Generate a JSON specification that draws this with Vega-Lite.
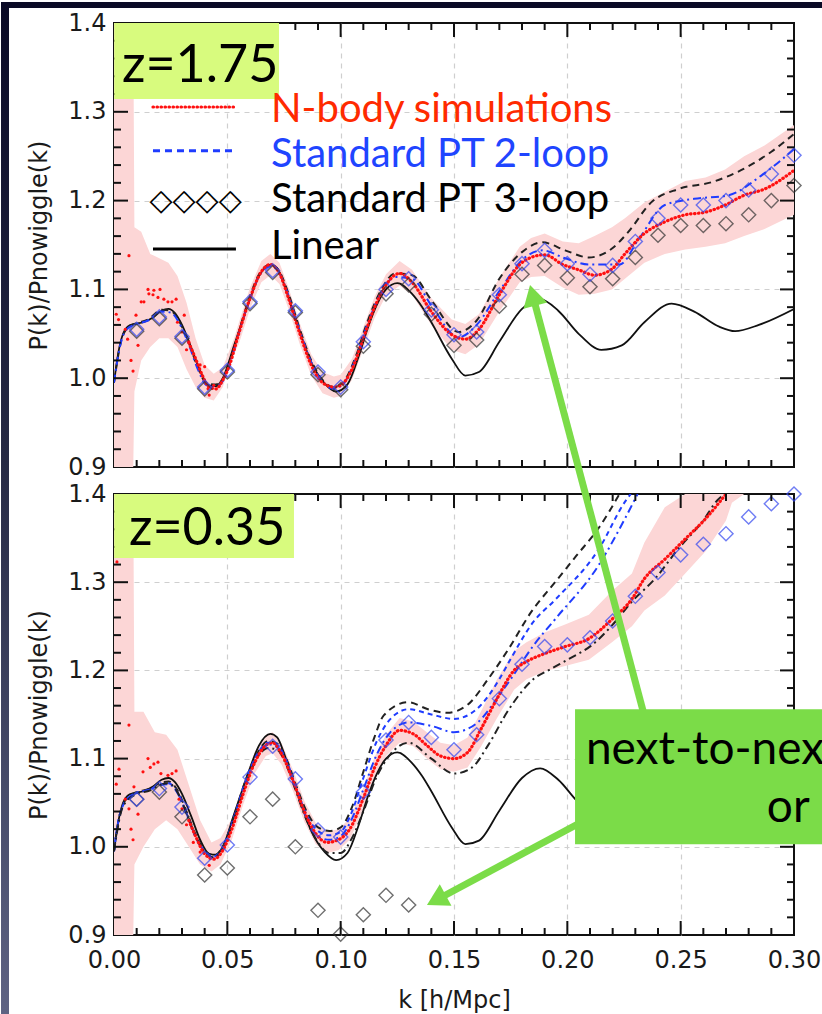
{
"$schema":"https://vega.github.io/schema/vega-lite/v6.json",
"background":"white",
"padding":{"left":0,"top":0,"right":0,"bottom":0},
"config":{
 "view":{"stroke":"#111111","strokeWidth":2},
 "axis":{"labelFont":"DejaVu Sans","labelFontSize":24,"labelColor":"#1a1a1a","titleFont":"DejaVu Sans","titleFontSize":24,"titleFontWeight":"normal","titleColor":"#1a1a1a","tickColor":"#111111","tickWidth":1.6,"labelOverlap":false,"labelFlush":false}
},
"spacing":27,
"bounds":"flush",
"datasets":{
 "lin":[{"k":0,"v":0.995},{"k":0.002,"v":1.03},{"k":0.004,"v":1.05},{"k":0.006,"v":1.058},{"k":0.009,"v":1.061},{"k":0.013,"v":1.063},{"k":0.017,"v":1.068},{"k":0.021,"v":1.076},{"k":0.024,"v":1.078},{"k":0.027,"v":1.073},{"k":0.03,"v":1.06},{"k":0.034,"v":1.035},{"k":0.038,"v":1.008},{"k":0.042,"v":0.992},{"k":0.045,"v":0.991},{"k":0.048,"v":1.0},{"k":0.053,"v":1.037},{"k":0.059,"v":1.082},{"k":0.064,"v":1.115},{"k":0.069,"v":1.128},{"k":0.072,"v":1.124},{"k":0.075,"v":1.106},{"k":0.079,"v":1.075},{"k":0.083,"v":1.045},{"k":0.087,"v":1.018},{"k":0.093,"v":0.994},{"k":0.098,"v":0.985},{"k":0.103,"v":0.993},{"k":0.108,"v":1.025},{"k":0.112,"v":1.057},{"k":0.116,"v":1.083},{"k":0.12,"v":1.1},{"k":0.125,"v":1.107},{"k":0.1315,"v":1.095},{"k":0.136,"v":1.08},{"k":0.14,"v":1.063},{"k":0.149,"v":1.022},{"k":0.155,"v":1.003},{"k":0.161,"v":1.007},{"k":0.17,"v":1.041},{"k":0.18,"v":1.078},{"k":0.188,"v":1.089},{"k":0.196,"v":1.076},{"k":0.205,"v":1.05},{"k":0.215,"v":1.032},{"k":0.224,"v":1.037},{"k":0.234,"v":1.063},{"k":0.246,"v":1.084},{"k":0.256,"v":1.075},{"k":0.267,"v":1.058},{"k":0.274,"v":1.053},{"k":0.2845,"v":1.06},{"k":0.3,"v":1.078}],
 "top_band":[{"k":0,"lo":0.9,"hi":1.4},{"k":0.0085,"lo":0.9,"hi":1.4},{"k":0.009,"lo":0.985,"hi":1.17},{"k":0.012,"lo":1.02,"hi":1.165},{"k":0.016,"lo":1.035,"hi":1.14},{"k":0.02,"lo":1.045,"hi":1.135},{"k":0.024,"lo":1.045,"hi":1.13},{"k":0.028,"lo":1.035,"hi":1.115},{"k":0.032,"lo":1.01,"hi":1.085},{"k":0.036,"lo":0.99,"hi":1.045},{"k":0.04,"lo":0.978,"hi":1.015},{"k":0.044,"lo":0.975,"hi":1.005},{"k":0.048,"lo":0.99,"hi":1.012},{"k":0.053,"lo":1.028,"hi":1.045},{"k":0.055,"lo":1.038,"hi":1.062},{"k":0.06,"lo":1.078,"hi":1.102},{"k":0.065,"lo":1.108,"hi":1.132},{"k":0.069,"lo":1.116,"hi":1.14},{"k":0.073,"lo":1.106,"hi":1.13},{"k":0.077,"lo":1.078,"hi":1.102},{"k":0.082,"lo":1.038,"hi":1.062},{"k":0.087,"lo":1.003,"hi":1.027},{"k":0.092,"lo":0.983,"hi":1.007},{"k":0.097,"lo":0.978,"hi":1.002},{"k":0.1,"lo":0.98,"hi":1.004},{"k":0.105,"lo":0.998,"hi":1.022},{"k":0.11,"lo":1.033,"hi":1.057},{"k":0.115,"lo":1.068,"hi":1.092},{"k":0.12,"lo":1.093,"hi":1.117},{"k":0.126,"lo":1.104,"hi":1.132},{"k":0.1315,"lo":1.094,"hi":1.122},{"k":0.14,"lo":1.06,"hi":1.09},{"k":0.149,"lo":1.032,"hi":1.066},{"k":0.155,"lo":1.027,"hi":1.061},{"k":0.161,"lo":1.038,"hi":1.072},{"k":0.17,"lo":1.075,"hi":1.113},{"k":0.179,"lo":1.108,"hi":1.148},{"k":0.184,"lo":1.114,"hi":1.158},{"k":0.19,"lo":1.115,"hi":1.163},{"k":0.198,"lo":1.102,"hi":1.154},{"k":0.205,"lo":1.094,"hi":1.152},{"k":0.212,"lo":1.095,"hi":1.16},{"k":0.2197,"lo":1.1,"hi":1.17},{"k":0.2254,"lo":1.112,"hi":1.18},{"k":0.234,"lo":1.13,"hi":1.198},{"k":0.243,"lo":1.14,"hi":1.21},{"k":0.252,"lo":1.145,"hi":1.222},{"k":0.261,"lo":1.148,"hi":1.226},{"k":0.2696,"lo":1.152,"hi":1.235},{"k":0.278,"lo":1.16,"hi":1.25},{"k":0.287,"lo":1.168,"hi":1.262},{"k":0.3,"lo":1.184,"hi":1.285}],
 "top_nb":[{"k":0.033,"v":1.04},{"k":0.036,"v":1.022},{"k":0.039,"v":1.003},{"k":0.042,"v":0.99},{"k":0.045,"v":0.988},{"k":0.048,"v":0.998},{"k":0.051,"v":1.015},{"k":0.055,"v":1.05},{"k":0.06,"v":1.09},{"k":0.065,"v":1.12},{"k":0.069,"v":1.128},{"k":0.073,"v":1.118},{"k":0.077,"v":1.09},{"k":0.082,"v":1.05},{"k":0.087,"v":1.015},{"k":0.092,"v":0.995},{"k":0.097,"v":0.99},{"k":0.1,"v":0.992},{"k":0.105,"v":1.01},{"k":0.11,"v":1.045},{"k":0.115,"v":1.08},{"k":0.12,"v":1.105},{"k":0.126,"v":1.118},{"k":0.1315,"v":1.108},{"k":0.14,"v":1.075},{"k":0.149,"v":1.049},{"k":0.155,"v":1.044},{"k":0.161,"v":1.055},{"k":0.17,"v":1.094},{"k":0.179,"v":1.128},{"k":0.184,"v":1.136},{"k":0.19,"v":1.139},{"k":0.198,"v":1.128},{"k":0.205,"v":1.122},{"k":0.212,"v":1.116},{"k":0.2197,"v":1.123},{"k":0.2254,"v":1.14},{"k":0.234,"v":1.163},{"k":0.243,"v":1.176},{"k":0.252,"v":1.184},{"k":0.261,"v":1.187},{"k":0.2696,"v":1.195},{"k":0.278,"v":1.206},{"k":0.287,"v":1.213},{"k":0.3,"v":1.234}],
 "top_dots":[{"k":0.001,"v":1.072},{"k":0.002,"v":1.066},{"k":0.0066,"v":1.138},{"k":0.005,"v":1.055},{"k":0.006,"v":1.044},{"k":0.0075,"v":1.02},{"k":0.0084,"v":1.008},{"k":0.0097,"v":1.071},{"k":0.0106,"v":1.037},{"k":0.012,"v":1.086},{"k":0.0132,"v":1.086},{"k":0.015,"v":1.1},{"k":0.0154,"v":1.095},{"k":0.0172,"v":1.094},{"k":0.0176,"v":1.099},{"k":0.0194,"v":1.091},{"k":0.0203,"v":1.1},{"k":0.022,"v":1.089},{"k":0.0238,"v":1.086},{"k":0.0256,"v":1.086},{"k":0.0274,"v":1.089},{"k":0.028,"v":1.063},{"k":0.03,"v":1.052},{"k":0.031,"v":1.071},{"k":0.032,"v":1.032},{"k":0.033,"v":1.041},{"k":0.038,"v":1.015},{"k":0.04,"v":1.013},{"k":0.0415,"v":0.988},{"k":0.042,"v":0.981},{"k":0.044,"v":0.992}],
 "top_bd":[{"k":0,"v":0.995},{"k":0.003,"v":1.04},{"k":0.006,"v":1.057},{"k":0.01,"v":1.062},{"k":0.015,"v":1.066},{"k":0.021,"v":1.077},{"k":0.025,"v":1.076},{"k":0.029,"v":1.063},{"k":0.033,"v":1.04},{"k":0.037,"v":1.012},{"k":0.041,"v":0.994},{"k":0.045,"v":0.993},{"k":0.049,"v":1.003},{"k":0.054,"v":1.043},{"k":0.059,"v":1.085},{"k":0.064,"v":1.117},{"k":0.069,"v":1.128},{"k":0.073,"v":1.12},{"k":0.077,"v":1.095},{"k":0.082,"v":1.055},{"k":0.087,"v":1.02},{"k":0.092,"v":0.998},{"k":0.097,"v":0.99},{"k":0.101,"v":0.995},{"k":0.106,"v":1.02},{"k":0.112,"v":1.065},{"k":0.118,"v":1.1},{"k":0.124,"v":1.118},{"k":0.1315,"v":1.116},{"k":0.14,"v":1.088},{"k":0.152,"v":1.052},{"k":0.16,"v":1.065},{"k":0.17,"v":1.112},{"k":0.18,"v":1.142},{"k":0.189,"v":1.153},{"k":0.199,"v":1.144},{"k":0.2095,"v":1.136},{"k":0.2197,"v":1.146},{"k":0.227,"v":1.165},{"k":0.237,"v":1.198},{"k":0.249,"v":1.213},{"k":0.264,"v":1.221},{"k":0.278,"v":1.236},{"k":0.29,"v":1.255},{"k":0.3,"v":1.275}],
 "top_bdd":[{"k":0,"v":0.995},{"k":0.003,"v":1.04},{"k":0.006,"v":1.056},{"k":0.01,"v":1.061},{"k":0.015,"v":1.065},{"k":0.021,"v":1.075},{"k":0.025,"v":1.074},{"k":0.029,"v":1.061},{"k":0.033,"v":1.038},{"k":0.037,"v":1.01},{"k":0.041,"v":0.992},{"k":0.045,"v":0.991},{"k":0.049,"v":1.001},{"k":0.054,"v":1.041},{"k":0.059,"v":1.083},{"k":0.064,"v":1.115},{"k":0.069,"v":1.126},{"k":0.073,"v":1.118},{"k":0.077,"v":1.093},{"k":0.082,"v":1.053},{"k":0.087,"v":1.018},{"k":0.092,"v":0.996},{"k":0.097,"v":0.988},{"k":0.101,"v":0.993},{"k":0.106,"v":1.018},{"k":0.112,"v":1.062},{"k":0.118,"v":1.097},{"k":0.124,"v":1.114},{"k":0.1315,"v":1.112},{"k":0.14,"v":1.082},{"k":0.152,"v":1.046},{"k":0.16,"v":1.06},{"k":0.17,"v":1.098},{"k":0.18,"v":1.133},{"k":0.189,"v":1.144},{"k":0.199,"v":1.135},{"k":0.2095,"v":1.128},{"k":0.223,"v":1.128},{"k":0.2316,"v":1.157},{"k":0.243,"v":1.195},{"k":0.256,"v":1.202},{"k":0.271,"v":1.206},{"k":0.286,"v":1.229},{"k":0.3,"v":1.258}],
 "top_diam":[{"k":0.01,"blue":1.055,"black":1.053},{"k":0.02,"blue":1.069,"black":1.067},{"k":0.03,"blue":1.047,"black":1.045},{"k":0.04,"blue":0.99,"black":0.988},{"k":0.05,"blue":1.009,"black":1.007},{"k":0.06,"blue":1.086,"black":1.084},{"k":0.07,"blue":1.121,"black":1.119},{"k":0.08,"blue":1.076,"black":1.074},{"k":0.09,"blue":1.007,"black":1.004},{"k":0.1,"blue":0.99,"black":0.987},{"k":0.11,"blue":1.041,"black":1.036},{"k":0.12,"blue":1.1,"black":1.095},{"k":0.13,"blue":1.112,"black":1.105},{"k":0.14,"blue":1.077,"black":1.072},{"k":0.15,"blue":1.049,"black":1.037},{"k":0.16,"blue":1.052,"black":1.043},{"k":0.17,"blue":1.094,"black":1.081},{"k":0.18,"blue":1.129,"black":1.117},{"k":0.19,"blue":1.144,"black":1.127},{"k":0.2,"blue":1.129,"black":1.113},{"k":0.21,"blue":1.117,"black":1.103},{"k":0.22,"blue":1.127,"black":1.112},{"k":0.23,"blue":1.154,"black":1.136},{"k":0.24,"blue":1.18,"black":1.161},{"k":0.25,"blue":1.195,"black":1.172},{"k":0.26,"blue":1.195,"black":1.172},{"k":0.27,"blue":1.2,"black":1.174},{"k":0.28,"blue":1.212,"black":1.184},{"k":0.29,"blue":1.23,"black":1.2},{"k":0.3,"blue":1.251,"black":1.217}],
 "bot_band":[{"k":0,"lo":0.9,"hi":1.4},{"k":0.0085,"lo":0.9,"hi":1.4},{"k":0.009,"lo":0.98,"hi":1.153},{"k":0.013,"lo":1.0,"hi":1.153},{"k":0.018,"lo":1.02,"hi":1.13},{"k":0.023,"lo":1.03,"hi":1.127},{"k":0.028,"lo":1.02,"hi":1.11},{"k":0.033,"lo":1.0,"hi":1.07},{"k":0.038,"lo":0.98,"hi":1.03},{"k":0.043,"lo":0.972,"hi":1.005},{"k":0.047,"lo":0.98,"hi":1.01},{"k":0.052,"lo":1.008,"hi":1.032},{"k":0.057,"lo":1.048,"hi":1.072},{"k":0.062,"lo":1.083,"hi":1.107},{"k":0.067,"lo":1.103,"hi":1.127},{"k":0.07,"lo":1.106,"hi":1.13},{"k":0.074,"lo":1.093,"hi":1.117},{"k":0.079,"lo":1.063,"hi":1.087},{"k":0.084,"lo":1.028,"hi":1.052},{"k":0.089,"lo":1.003,"hi":1.027},{"k":0.094,"lo":0.993,"hi":1.017},{"k":0.099,"lo":0.996,"hi":1.02},{"k":0.104,"lo":1.008,"hi":1.032},{"k":0.11,"lo":1.043,"hi":1.067},{"k":0.115,"lo":1.078,"hi":1.102},{"k":0.12,"lo":1.103,"hi":1.127},{"k":0.126,"lo":1.118,"hi":1.146},{"k":0.132,"lo":1.114,"hi":1.142},{"k":0.138,"lo":1.1,"hi":1.13},{"k":0.144,"lo":1.088,"hi":1.118},{"k":0.15,"lo":1.085,"hi":1.115},{"k":0.156,"lo":1.09,"hi":1.124},{"k":0.162,"lo":1.114,"hi":1.154},{"k":0.169,"lo":1.146,"hi":1.19},{"k":0.1765,"lo":1.178,"hi":1.222},{"k":0.182,"lo":1.19,"hi":1.232},{"k":0.19,"lo":1.199,"hi":1.243},{"k":0.199,"lo":1.205,"hi":1.252},{"k":0.2095,"lo":1.212,"hi":1.263},{"k":0.2197,"lo":1.232,"hi":1.29},{"k":0.2285,"lo":1.25,"hi":1.31},{"k":0.234,"lo":1.268,"hi":1.345},{"k":0.243,"lo":1.285,"hi":1.385},{"k":0.252,"lo":1.31,"hi":1.4},{"k":0.261,"lo":1.335,"hi":1.4},{"k":0.27,"lo":1.37,"hi":1.4},{"k":0.2726,"lo":1.39,"hi":1.4},{"k":0.278,"lo":1.4,"hi":1.4}],
 "bot_nb":[{"k":0.033,"v":1.03},{"k":0.036,"v":1.012},{"k":0.04,"v":0.992},{"k":0.044,"v":0.986},{"k":0.048,"v":0.996},{"k":0.052,"v":1.02},{"k":0.057,"v":1.06},{"k":0.062,"v":1.095},{"k":0.067,"v":1.115},{"k":0.07,"v":1.118},{"k":0.074,"v":1.105},{"k":0.079,"v":1.075},{"k":0.084,"v":1.04},{"k":0.089,"v":1.015},{"k":0.094,"v":1.005},{"k":0.099,"v":1.008},{"k":0.104,"v":1.02},{"k":0.11,"v":1.055},{"k":0.115,"v":1.09},{"k":0.12,"v":1.115},{"k":0.126,"v":1.132},{"k":0.132,"v":1.128},{"k":0.138,"v":1.115},{"k":0.144,"v":1.103},{"k":0.15,"v":1.1},{"k":0.156,"v":1.107},{"k":0.162,"v":1.134},{"k":0.169,"v":1.168},{"k":0.1765,"v":1.2},{"k":0.182,"v":1.21},{"k":0.19,"v":1.219},{"k":0.199,"v":1.227},{"k":0.2095,"v":1.236},{"k":0.2197,"v":1.258},{"k":0.2285,"v":1.281},{"k":0.234,"v":1.304},{"k":0.243,"v":1.326},{"k":0.252,"v":1.349},{"k":0.261,"v":1.372},{"k":0.27,"v":1.4}],
 "bot_dots":[{"k":0.0013,"v":1.323},{"k":0.0066,"v":1.138},{"k":0.001,"v":1.071},{"k":0.0022,"v":1.088},{"k":0.005,"v":1.054},{"k":0.0066,"v":1.043},{"k":0.0075,"v":1.02},{"k":0.0084,"v":1.008},{"k":0.0088,"v":1.068},{"k":0.0106,"v":1.037},{"k":0.0128,"v":1.085},{"k":0.015,"v":1.1},{"k":0.016,"v":1.09},{"k":0.0176,"v":1.094},{"k":0.0194,"v":1.096},{"k":0.0207,"v":1.083},{"k":0.0238,"v":1.081},{"k":0.0256,"v":1.083},{"k":0.0274,"v":1.086},{"k":0.0287,"v":1.054},{"k":0.03,"v":1.043},{"k":0.032,"v":1.025},{"k":0.035,"v":1.005},{"k":0.038,"v":0.994},{"k":0.042,"v":0.979}],
 "bot_kd":[{"k":0,"v":0.995},{"k":0.002,"v":1.03},{"k":0.004,"v":1.048},{"k":0.007,"v":1.058},{"k":0.01,"v":1.062},{"k":0.016,"v":1.066},{"k":0.02,"v":1.072},{"k":0.024,"v":1.074},{"k":0.028,"v":1.064},{"k":0.032,"v":1.04},{"k":0.036,"v":1.014},{"k":0.04,"v":0.996},{"k":0.044,"v":0.99},{"k":0.048,"v":1.0},{"k":0.053,"v":1.035},{"k":0.058,"v":1.075},{"k":0.063,"v":1.105},{"k":0.068,"v":1.12},{"k":0.072,"v":1.117},{"k":0.076,"v":1.1},{"k":0.08,"v":1.072},{"k":0.085,"v":1.04},{"k":0.09,"v":1.022},{"k":0.095,"v":1.018},{"k":0.1,"v":1.022},{"k":0.105,"v":1.045},{"k":0.11,"v":1.085},{"k":0.115,"v":1.125},{"k":0.119,"v":1.149},{"k":0.1297,"v":1.164},{"k":0.1385,"v":1.156},{"k":0.147,"v":1.152},{"k":0.156,"v":1.161},{"k":0.165,"v":1.19},{"k":0.174,"v":1.224},{"k":0.184,"v":1.266},{"k":0.1946,"v":1.3},{"k":0.204,"v":1.33},{"k":0.214,"v":1.362},{"k":0.223,"v":1.4}],
 "bot_bl":[{"k":0,"v":0.995},{"k":0.002,"v":1.03},{"k":0.004,"v":1.047},{"k":0.007,"v":1.057},{"k":0.01,"v":1.061},{"k":0.016,"v":1.065},{"k":0.02,"v":1.07},{"k":0.024,"v":1.072},{"k":0.028,"v":1.062},{"k":0.032,"v":1.038},{"k":0.036,"v":1.012},{"k":0.04,"v":0.995},{"k":0.044,"v":0.989},{"k":0.048,"v":0.999},{"k":0.053,"v":1.034},{"k":0.058,"v":1.074},{"k":0.063,"v":1.104},{"k":0.068,"v":1.118},{"k":0.072,"v":1.115},{"k":0.076,"v":1.098},{"k":0.08,"v":1.07},{"k":0.085,"v":1.036},{"k":0.09,"v":1.018},{"k":0.095,"v":1.013},{"k":0.1,"v":1.017},{"k":0.105,"v":1.04},{"k":0.11,"v":1.078},{"k":0.116,"v":1.12},{"k":0.122,"v":1.145},{"k":0.13,"v":1.156},{"k":0.14,"v":1.15},{"k":0.15,"v":1.145},{"k":0.16,"v":1.156},{"k":0.17,"v":1.19},{"k":0.175,"v":1.213},{"k":0.185,"v":1.255},{"k":0.1946,"v":1.28},{"k":0.214,"v":1.338},{"k":0.2254,"v":1.391},{"k":0.228,"v":1.4}],
 "bot_bdd":[{"k":0,"v":0.995},{"k":0.002,"v":1.03},{"k":0.004,"v":1.047},{"k":0.007,"v":1.057},{"k":0.01,"v":1.061},{"k":0.016,"v":1.065},{"k":0.02,"v":1.07},{"k":0.024,"v":1.071},{"k":0.028,"v":1.061},{"k":0.032,"v":1.037},{"k":0.036,"v":1.011},{"k":0.04,"v":0.994},{"k":0.044,"v":0.988},{"k":0.048,"v":0.998},{"k":0.053,"v":1.033},{"k":0.058,"v":1.072},{"k":0.063,"v":1.102},{"k":0.068,"v":1.116},{"k":0.072,"v":1.113},{"k":0.076,"v":1.096},{"k":0.08,"v":1.068},{"k":0.085,"v":1.032},{"k":0.09,"v":1.012},{"k":0.095,"v":1.008},{"k":0.1,"v":1.012},{"k":0.105,"v":1.032},{"k":0.11,"v":1.065},{"k":0.116,"v":1.105},{"k":0.122,"v":1.13},{"k":0.13,"v":1.141},{"k":0.14,"v":1.137},{"k":0.15,"v":1.13},{"k":0.16,"v":1.14},{"k":0.17,"v":1.172},{"k":0.175,"v":1.19},{"k":0.185,"v":1.228},{"k":0.1946,"v":1.258},{"k":0.214,"v":1.32},{"k":0.2254,"v":1.372},{"k":0.231,"v":1.4}],
 "bot_kdd":[{"k":0,"v":0.995},{"k":0.004,"v":1.046},{"k":0.01,"v":1.06},{"k":0.016,"v":1.064},{"k":0.02,"v":1.07},{"k":0.024,"v":1.072},{"k":0.028,"v":1.062},{"k":0.032,"v":1.038},{"k":0.036,"v":1.012},{"k":0.04,"v":0.994},{"k":0.044,"v":0.988},{"k":0.048,"v":0.998},{"k":0.053,"v":1.032},{"k":0.058,"v":1.07},{"k":0.063,"v":1.1},{"k":0.068,"v":1.112},{"k":0.072,"v":1.11},{"k":0.076,"v":1.093},{"k":0.08,"v":1.065},{"k":0.085,"v":1.03},{"k":0.09,"v":1.005},{"k":0.095,"v":0.993},{"k":0.1,"v":0.993},{"k":0.105,"v":1.01},{"k":0.11,"v":1.04},{"k":0.116,"v":1.08},{"k":0.122,"v":1.105},{"k":0.13,"v":1.118},{"k":0.14,"v":1.1},{"k":0.15,"v":1.083},{"k":0.158,"v":1.09},{"k":0.165,"v":1.115},{"k":0.174,"v":1.155},{"k":0.185,"v":1.19},{"k":0.193,"v":1.202},{"k":0.2007,"v":1.213},{"k":0.211,"v":1.229},{"k":0.2197,"v":1.251},{"k":0.2285,"v":1.278},{"k":0.2387,"v":1.304},{"k":0.249,"v":1.338},{"k":0.2594,"v":1.368},{"k":0.267,"v":1.395},{"k":0.27,"v":1.4}],
 "bot_diam":[{"k":0.01,"blue":1.054,"black":1.054},{"k":0.02,"blue":1.066,"black":1.062},{"k":0.03,"blue":1.045,"black":1.034},{"k":0.04,"blue":0.987,"black":0.968},{"k":0.05,"blue":1.002,"black":0.976},{"k":0.06,"blue":1.079,"black":1.034},{"k":0.07,"blue":1.114,"black":1.054},{"k":0.08,"blue":1.077,"black":1.0},{"k":0.09,"blue":1.019,"black":0.928},{"k":0.1,"blue":1.011,"black":0.901},{"k":0.11,"blue":1.062,"black":0.923},{"k":0.12,"blue":1.121,"black":0.945},{"k":0.13,"blue":1.141,"black":0.934},{"k":0.14,"blue":1.124,"black":null},{"k":0.15,"blue":1.11,"black":null},{"k":0.16,"blue":1.127,"black":null},{"k":0.17,"blue":1.168,"black":null},{"k":0.18,"blue":1.207,"black":null},{"k":0.19,"blue":1.227,"black":null},{"k":0.2,"blue":1.229,"black":null},{"k":0.21,"blue":1.237,"black":null},{"k":0.22,"blue":1.256,"black":null},{"k":0.23,"blue":1.284,"black":null},{"k":0.24,"blue":1.311,"black":null},{"k":0.25,"blue":1.331,"black":null},{"k":0.26,"blue":1.343,"black":null},{"k":0.27,"blue":1.355,"black":null},{"k":0.28,"blue":1.374,"black":null},{"k":0.29,"blue":1.389,"black":null},{"k":0.3,"blue":1.4,"black":null}],
 "xmaj":[{"t":0.05},{"t":0.1},{"t":0.15},{"t":0.2},{"t":0.25}],
 "xmin":[{"t":0.01},{"t":0.02},{"t":0.03},{"t":0.04},{"t":0.06},{"t":0.07},{"t":0.08},{"t":0.09},{"t":0.11},{"t":0.12},{"t":0.13},{"t":0.14},{"t":0.16},{"t":0.17},{"t":0.18},{"t":0.19},{"t":0.21},{"t":0.22},{"t":0.23},{"t":0.24},{"t":0.26},{"t":0.27},{"t":0.28},{"t":0.29}],
 "ymaj":[{"t":1.0},{"t":1.1},{"t":1.2},{"t":1.3}],
 "ymin":[{"t":0.92},{"t":0.94},{"t":0.96},{"t":0.98},{"t":1.02},{"t":1.04},{"t":1.06},{"t":1.08},{"t":1.12},{"t":1.14},{"t":1.16},{"t":1.18},{"t":1.22},{"t":1.24},{"t":1.26},{"t":1.28},{"t":1.32},{"t":1.34},{"t":1.36},{"t":1.38}],
 "one":[{"k":0.1,"v":1.1}],
 "note":[{"label":"annotation"}]
},
"vconcat":[
{
 "width":680,"height":444,
 "resolve":{"axis":{"x":"independent","y":"independent"}},
 "layer":[
  {"data":{"name":"note"},"mark":{"type":"rect","fill":{"gradient":"linear","x1":0,"y1":0,"x2":0,"y2":1,"stops":[{"offset":0,"color":"#0a0a26"},{"offset":0.45,"color":"#262944"},{"offset":1,"color":"#5e6383"}]}},
   "encoding":{"x":{"datum":-0.04985,"type":"quantitative","scale":{"domain":[0,0.3],"nice":false,"zero":false},"axis":null},"x2":{"datum":-0.04632},"y":{"datum":1.42365,"type":"quantitative","scale":{"domain":[0.9,1.4],"nice":false,"zero":false},"axis":null},"y2":{"datum":0.2818}}},
  {"data":{"name":"note"},"mark":{"type":"rect","fill":"#0a0a26"},
   "encoding":{"x":{"datum":-0.04985,"type":"quantitative","axis":null},"x2":{"datum":0.31279},"y":{"datum":1.42365,"type":"quantitative","axis":null},"y2":{"datum":1.41689}}},
  {"data":{"name":"one"},"mark":{"type":"point","opacity":0},
   "encoding":{"x":{"field":"k","type":"quantitative","axis":null},
    "y":{"field":"v","type":"quantitative","axis":{"orient":"left","values":[0.9,1.0,1.1,1.2,1.3,1.4],"format":".1f","grid":false,"ticks":false,"domain":false,"labelPadding":8,"title":"P(k)/Pnowiggle(k)","titlePadding":16}}}},
  {"data":{"name":"one"},"mark":{"type":"point","opacity":0},
   "encoding":{"x":{"field":"k","type":"quantitative","axis":{"orient":"bottom","values":[0.05,0.1,0.15,0.2,0.25],"grid":true,"gridDash":[5,5],"gridColor":"#cfcfcf","gridWidth":1.2,"ticks":false,"labels":false,"domain":false,"title":null}},
    "y":{"field":"v","type":"quantitative","axis":{"orient":"left","values":[1.0,1.1,1.2,1.3],"grid":true,"gridDash":[5,5],"gridColor":"#cfcfcf","gridWidth":1.2,"ticks":false,"labels":false,"domain":false,"title":null}}}},
  {"data":{"name":"top_band"},"mark":{"type":"area","color":"#fcd6d6","clip":true},
   "encoding":{"x":{"field":"k","type":"quantitative","axis":null},"y":{"field":"lo","type":"quantitative","axis":null},"y2":{"field":"hi"}}},
  {"data":{"name":"lin"},"mark":{"type":"line","color":"#111111","strokeWidth":1.8,"interpolate":"monotone","clip":true},
   "encoding":{"x":{"field":"k","type":"quantitative","axis":null},"y":{"field":"v","type":"quantitative","axis":null}}},
  {"data":{"name":"top_bd"},"mark":{"type":"line","color":"#222222","strokeWidth":2,"strokeDash":[7,5],"interpolate":"monotone","clip":true},
   "encoding":{"x":{"field":"k","type":"quantitative","axis":null},"y":{"field":"v","type":"quantitative","axis":null}}},
  {"data":{"name":"top_bdd"},"mark":{"type":"line","color":"#1f3cff","strokeWidth":2,"strokeDash":[8,4,2,4],"interpolate":"monotone","clip":true},
   "encoding":{"x":{"field":"k","type":"quantitative","axis":null},"y":{"field":"v","type":"quantitative","axis":null}}},
  {"data":{"name":"top_nb"},"mark":{"type":"line","color":"#ff1010","strokeWidth":3.2,"strokeDash":[0.5,3.5],"strokeCap":"round","interpolate":"monotone","clip":true},
   "encoding":{"x":{"field":"k","type":"quantitative","axis":null},"y":{"field":"v","type":"quantitative","axis":null}}},
  {"data":{"name":"top_dots"},"mark":{"type":"circle","color":"#ff1010","size":10,"opacity":1},
   "encoding":{"x":{"field":"k","type":"quantitative","axis":null},"y":{"field":"v","type":"quantitative","axis":null}}},
  {"data":{"name":"top_diam"},"mark":{"type":"point","shape":"diamond","filled":false,"size":200,"color":"#333333","strokeWidth":1.4},
   "encoding":{"x":{"field":"k","type":"quantitative","axis":null},"y":{"field":"black","type":"quantitative","axis":null}}},
  {"data":{"name":"top_diam"},"mark":{"type":"point","shape":"diamond","filled":false,"size":200,"color":"#3347f0","strokeWidth":1.4},
   "encoding":{"x":{"field":"k","type":"quantitative","axis":null},"y":{"field":"blue","type":"quantitative","axis":null}}},
  {"data":{"name":"xmaj"},"mark":{"type":"tick","orient":"vertical","size":14,"thickness":2,"color":"#111111","opacity":1,"yOffset":-7},
   "encoding":{"x":{"field":"t","type":"quantitative","axis":null},"y":{"datum":0.9,"type":"quantitative","axis":null}}},
  {"data":{"name":"xmin"},"mark":{"type":"tick","orient":"vertical","size":7,"thickness":2,"color":"#111111","opacity":1,"yOffset":-3.5},
   "encoding":{"x":{"field":"t","type":"quantitative","axis":null},"y":{"datum":0.9,"type":"quantitative","axis":null}}},
  {"data":{"name":"xmaj"},"mark":{"type":"tick","orient":"vertical","size":14,"thickness":2,"color":"#111111","opacity":1,"yOffset":7},
   "encoding":{"x":{"field":"t","type":"quantitative","axis":null},"y":{"datum":1.4,"type":"quantitative","axis":null}}},
  {"data":{"name":"xmin"},"mark":{"type":"tick","orient":"vertical","size":7,"thickness":2,"color":"#111111","opacity":1,"yOffset":3.5},
   "encoding":{"x":{"field":"t","type":"quantitative","axis":null},"y":{"datum":1.4,"type":"quantitative","axis":null}}},
  {"data":{"name":"ymaj"},"mark":{"type":"tick","orient":"horizontal","size":14,"thickness":2,"color":"#111111","opacity":1,"xOffset":7},
   "encoding":{"y":{"field":"t","type":"quantitative","axis":null},"x":{"datum":0,"type":"quantitative","axis":null}}},
  {"data":{"name":"ymin"},"mark":{"type":"tick","orient":"horizontal","size":7,"thickness":2,"color":"#111111","opacity":1,"xOffset":3.5},
   "encoding":{"y":{"field":"t","type":"quantitative","axis":null},"x":{"datum":0,"type":"quantitative","axis":null}}},
  {"data":{"name":"ymaj"},"mark":{"type":"tick","orient":"horizontal","size":14,"thickness":2,"color":"#111111","opacity":1,"xOffset":-7},
   "encoding":{"y":{"field":"t","type":"quantitative","axis":null},"x":{"datum":0.3,"type":"quantitative","axis":null}}},
  {"data":{"name":"ymin"},"mark":{"type":"tick","orient":"horizontal","size":7,"thickness":2,"color":"#111111","opacity":1,"xOffset":-3.5},
   "encoding":{"y":{"field":"t","type":"quantitative","axis":null},"x":{"datum":0.3,"type":"quantitative","axis":null}}},
  {"data":{"name":"note"},"mark":{"type":"rect","fill":"#d8fb7e"},
   "encoding":{"x":{"datum":0.0001,"type":"quantitative","axis":null},"x2":{"datum":0.0728},"y":{"datum":1.4,"type":"quantitative","axis":null},"y2":{"datum":1.3144}}},
  {"data":{"name":"note"},"mark":{"type":"text","text":"z=1.75","font":"Lato","fontSize":52,"color":"#000000","align":"left","baseline":"alphabetic"},
   "encoding":{"x":{"datum":0.0035,"type":"quantitative","axis":null},"y":{"datum":1.3336,"type":"quantitative","axis":null}}},
  {"data":{"name":"note"},"mark":{"type":"rule","color":"#ff1010","strokeWidth":3.2,"strokeDash":[0.5,3.5],"strokeCap":"round"},
   "encoding":{"x":{"datum":0.0172,"type":"quantitative","axis":null},"x2":{"datum":0.0538},"y":{"datum":1.3054,"type":"quantitative","axis":null}}},
  {"data":{"name":"note"},"mark":{"type":"rule","color":"#1f3cff","strokeWidth":3,"strokeDash":[7,5]},
   "encoding":{"x":{"datum":0.0172,"type":"quantitative","axis":null},"x2":{"datum":0.0538},"y":{"datum":1.256,"type":"quantitative","axis":null}}},
  {"data":{"name":"note"},"mark":{"type":"text","text":"◇◇◇◇","font":"DejaVu Sans","fontSize":30,"color":"#000000","align":"center","baseline":"middle"},
   "encoding":{"x":{"datum":0.036,"type":"quantitative","axis":null},"y":{"datum":1.2,"type":"quantitative","axis":null}}},
  {"data":{"name":"note"},"mark":{"type":"rule","color":"#000000","strokeWidth":3},
   "encoding":{"x":{"datum":0.0172,"type":"quantitative","axis":null},"x2":{"datum":0.0538},"y":{"datum":1.1455,"type":"quantitative","axis":null}}},
  {"data":{"name":"note"},"mark":{"type":"text","text":"N-body simulations","font":"Lato","fontSize":40,"color":"#ff2a00","align":"left","baseline":"alphabetic"},
   "encoding":{"x":{"datum":0.0693,"type":"quantitative","axis":null},"y":{"datum":1.288,"type":"quantitative","axis":null}}},
  {"data":{"name":"note"},"mark":{"type":"text","text":"Standard PT 2-loop","font":"Lato","fontSize":40,"color":"#1f45ff","align":"left","baseline":"alphabetic"},
   "encoding":{"x":{"datum":0.0693,"type":"quantitative","axis":null},"y":{"datum":1.238,"type":"quantitative","axis":null}}},
  {"data":{"name":"note"},"mark":{"type":"text","text":"Standard PT 3-loop","font":"Lato","fontSize":40,"color":"#000000","align":"left","baseline":"alphabetic"},
   "encoding":{"x":{"datum":0.0693,"type":"quantitative","axis":null},"y":{"datum":1.187,"type":"quantitative","axis":null}}},
  {"data":{"name":"note"},"mark":{"type":"text","text":"Linear","font":"Lato","fontSize":40,"color":"#000000","align":"left","baseline":"alphabetic"},
   "encoding":{"x":{"datum":0.0693,"type":"quantitative","axis":null},"y":{"datum":1.134,"type":"quantitative","axis":null}}}
 ]
},
{
 "width":680,"height":441,
 "resolve":{"axis":{"x":"independent","y":"independent"}},
 "layer":[
  {"data":{"name":"one"},"mark":{"type":"point","opacity":0},
   "encoding":{"x":{"field":"k","type":"quantitative","scale":{"domain":[0,0.3],"nice":false,"zero":false},"axis":{"orient":"bottom","values":[0,0.05,0.1,0.15,0.2,0.25,0.3],"format":".2f","grid":false,"ticks":false,"domain":false,"labelPadding":13,"title":"k [h/Mpc]","titlePadding":16}},
    "y":{"field":"v","type":"quantitative","scale":{"domain":[0.9,1.4],"nice":false,"zero":false},"axis":{"orient":"left","values":[0.9,1.0,1.1,1.2,1.3,1.4],"format":".1f","grid":false,"ticks":false,"domain":false,"labelPadding":8,"title":"P(k)/Pnowiggle(k)","titlePadding":16}}}},
  {"data":{"name":"one"},"mark":{"type":"point","opacity":0},
   "encoding":{"x":{"field":"k","type":"quantitative","axis":{"orient":"bottom","values":[0.05,0.1,0.15,0.2,0.25],"grid":true,"gridDash":[5,5],"gridColor":"#cfcfcf","gridWidth":1.2,"ticks":false,"labels":false,"domain":false,"title":null}},
    "y":{"field":"v","type":"quantitative","axis":{"orient":"left","values":[1.0,1.1,1.2,1.3],"grid":true,"gridDash":[5,5],"gridColor":"#cfcfcf","gridWidth":1.2,"ticks":false,"labels":false,"domain":false,"title":null}}}},
  {"data":{"name":"bot_band"},"mark":{"type":"area","color":"#fcd6d6","clip":true},
   "encoding":{"x":{"field":"k","type":"quantitative","axis":null},"y":{"field":"lo","type":"quantitative","axis":null},"y2":{"field":"hi"}}},
  {"data":{"name":"lin"},"mark":{"type":"line","color":"#111111","strokeWidth":1.8,"interpolate":"monotone","clip":true},
   "encoding":{"x":{"field":"k","type":"quantitative","axis":null},"y":{"field":"v","type":"quantitative","axis":null}}},
  {"data":{"name":"bot_kd"},"mark":{"type":"line","color":"#222222","strokeWidth":2,"strokeDash":[7,5],"interpolate":"monotone","clip":true},
   "encoding":{"x":{"field":"k","type":"quantitative","axis":null},"y":{"field":"v","type":"quantitative","axis":null}}},
  {"data":{"name":"bot_bl"},"mark":{"type":"line","color":"#1f3cff","strokeWidth":2,"strokeDash":[5,4],"interpolate":"monotone","clip":true},
   "encoding":{"x":{"field":"k","type":"quantitative","axis":null},"y":{"field":"v","type":"quantitative","axis":null}}},
  {"data":{"name":"bot_bdd"},"mark":{"type":"line","color":"#1f3cff","strokeWidth":2,"strokeDash":[8,4,2,4],"interpolate":"monotone","clip":true},
   "encoding":{"x":{"field":"k","type":"quantitative","axis":null},"y":{"field":"v","type":"quantitative","axis":null}}},
  {"data":{"name":"bot_kdd"},"mark":{"type":"line","color":"#222222","strokeWidth":2,"strokeDash":[8,4,2,4],"interpolate":"monotone","clip":true},
   "encoding":{"x":{"field":"k","type":"quantitative","axis":null},"y":{"field":"v","type":"quantitative","axis":null}}},
  {"data":{"name":"bot_nb"},"mark":{"type":"line","color":"#ff1010","strokeWidth":3.2,"strokeDash":[0.5,3.5],"strokeCap":"round","interpolate":"monotone","clip":true},
   "encoding":{"x":{"field":"k","type":"quantitative","axis":null},"y":{"field":"v","type":"quantitative","axis":null}}},
  {"data":{"name":"bot_dots"},"mark":{"type":"circle","color":"#ff1010","size":10,"opacity":1},
   "encoding":{"x":{"field":"k","type":"quantitative","axis":null},"y":{"field":"v","type":"quantitative","axis":null}}},
  {"data":{"name":"bot_diam"},"mark":{"type":"point","shape":"diamond","filled":false,"size":200,"color":"#333333","strokeWidth":1.4},
   "encoding":{"x":{"field":"k","type":"quantitative","axis":null},"y":{"field":"black","type":"quantitative","axis":null}}},
  {"data":{"name":"bot_diam"},"mark":{"type":"point","shape":"diamond","filled":false,"size":200,"color":"#3347f0","strokeWidth":1.4},
   "encoding":{"x":{"field":"k","type":"quantitative","axis":null},"y":{"field":"blue","type":"quantitative","axis":null}}},
  {"data":{"name":"xmaj"},"mark":{"type":"tick","orient":"vertical","size":14,"thickness":2,"color":"#111111","opacity":1,"yOffset":-7},
   "encoding":{"x":{"field":"t","type":"quantitative","axis":null},"y":{"datum":0.9,"type":"quantitative","axis":null}}},
  {"data":{"name":"xmin"},"mark":{"type":"tick","orient":"vertical","size":7,"thickness":2,"color":"#111111","opacity":1,"yOffset":-3.5},
   "encoding":{"x":{"field":"t","type":"quantitative","axis":null},"y":{"datum":0.9,"type":"quantitative","axis":null}}},
  {"data":{"name":"xmaj"},"mark":{"type":"tick","orient":"vertical","size":14,"thickness":2,"color":"#111111","opacity":1,"yOffset":7},
   "encoding":{"x":{"field":"t","type":"quantitative","axis":null},"y":{"datum":1.4,"type":"quantitative","axis":null}}},
  {"data":{"name":"xmin"},"mark":{"type":"tick","orient":"vertical","size":7,"thickness":2,"color":"#111111","opacity":1,"yOffset":3.5},
   "encoding":{"x":{"field":"t","type":"quantitative","axis":null},"y":{"datum":1.4,"type":"quantitative","axis":null}}},
  {"data":{"name":"ymaj"},"mark":{"type":"tick","orient":"horizontal","size":14,"thickness":2,"color":"#111111","opacity":1,"xOffset":7},
   "encoding":{"y":{"field":"t","type":"quantitative","axis":null},"x":{"datum":0,"type":"quantitative","axis":null}}},
  {"data":{"name":"ymin"},"mark":{"type":"tick","orient":"horizontal","size":7,"thickness":2,"color":"#111111","opacity":1,"xOffset":3.5},
   "encoding":{"y":{"field":"t","type":"quantitative","axis":null},"x":{"datum":0,"type":"quantitative","axis":null}}},
  {"data":{"name":"ymaj"},"mark":{"type":"tick","orient":"horizontal","size":14,"thickness":2,"color":"#111111","opacity":1,"xOffset":-7},
   "encoding":{"y":{"field":"t","type":"quantitative","axis":null},"x":{"datum":0.3,"type":"quantitative","axis":null}}},
  {"data":{"name":"ymin"},"mark":{"type":"tick","orient":"horizontal","size":7,"thickness":2,"color":"#111111","opacity":1,"xOffset":-3.5},
   "encoding":{"y":{"field":"t","type":"quantitative","axis":null},"x":{"datum":0.3,"type":"quantitative","axis":null}}},
  {"data":{"name":"note"},"mark":{"type":"rect","fill":"#d8fb7e"},
   "encoding":{"x":{"datum":0.0001,"type":"quantitative","axis":null},"x2":{"datum":0.0794},"y":{"datum":1.4,"type":"quantitative","axis":null},"y2":{"datum":1.3274}}},
  {"data":{"name":"note"},"mark":{"type":"text","text":"z=0.35","font":"Lato","fontSize":52,"color":"#000000","align":"left","baseline":"alphabetic"},
   "encoding":{"x":{"datum":0.0066,"type":"quantitative","axis":null},"y":{"datum":1.342,"type":"quantitative","axis":null}}},
  {"data":{"name":"note"},"mark":{"type":"rule","color":"#7bdc48","strokeWidth":7},
   "encoding":{"x":{"datum":0.18472,"type":"quantitative","axis":null},"x2":{"datum":0.2347},"y":{"datum":1.6253,"type":"quantitative","axis":null},"y2":{"datum":1.1415}}},
  {"data":{"name":"note"},"mark":{"type":"rule","color":"#7bdc48","strokeWidth":7},
   "encoding":{"x":{"datum":0.14219,"type":"quantitative","axis":null},"x2":{"datum":0.2104},"y":{"datum":0.9397,"type":"quantitative","axis":null},"y2":{"datum":1.0338}}},
  {"data":{"name":"note"},"mark":{"type":"point","shape":"triangle-up","filled":true,"size":600,"color":"#7bdc48","opacity":1,"angle":345.3},
   "encoding":{"x":{"datum":0.18472,"type":"quantitative","axis":null},"y":{"datum":1.6253,"type":"quantitative","axis":null}}},
  {"data":{"name":"note"},"mark":{"type":"point","shape":"triangle-up","filled":true,"size":600,"color":"#7bdc48","opacity":1,"angle":241.6},
   "encoding":{"x":{"datum":0.14219,"type":"quantitative","axis":null},"y":{"datum":0.9397,"type":"quantitative","axis":null}}},
  {"data":{"name":"note"},"mark":{"type":"rect","fill":"#7bdc48"},
   "encoding":{"x":{"datum":0.2034,"type":"quantitative","axis":null},"x2":{"datum":0.31279},"y":{"datum":1.156,"type":"quantitative","axis":null},"y2":{"datum":1.003}}},
  {"data":{"name":"note"},"mark":{"type":"text","text":"next-to-next-to-leading","font":"Lato","fontSize":46,"color":"#000000","align":"left","baseline":"alphabetic","limit":240,"ellipsis":"\u200b"},
   "encoding":{"x":{"datum":0.2082,"type":"quantitative","axis":null},"y":{"datum":1.094,"type":"quantitative","axis":null}}},
  {"data":{"name":"note"},"mark":{"type":"text","text":"order","font":"Lato","fontSize":46,"color":"#000000","align":"left","baseline":"alphabetic","limit":56,"ellipsis":"\u200b"},
   "encoding":{"x":{"datum":0.288,"type":"quantitative","axis":null},"y":{"datum":1.028,"type":"quantitative","axis":null}}}
 ]
}
]
}
